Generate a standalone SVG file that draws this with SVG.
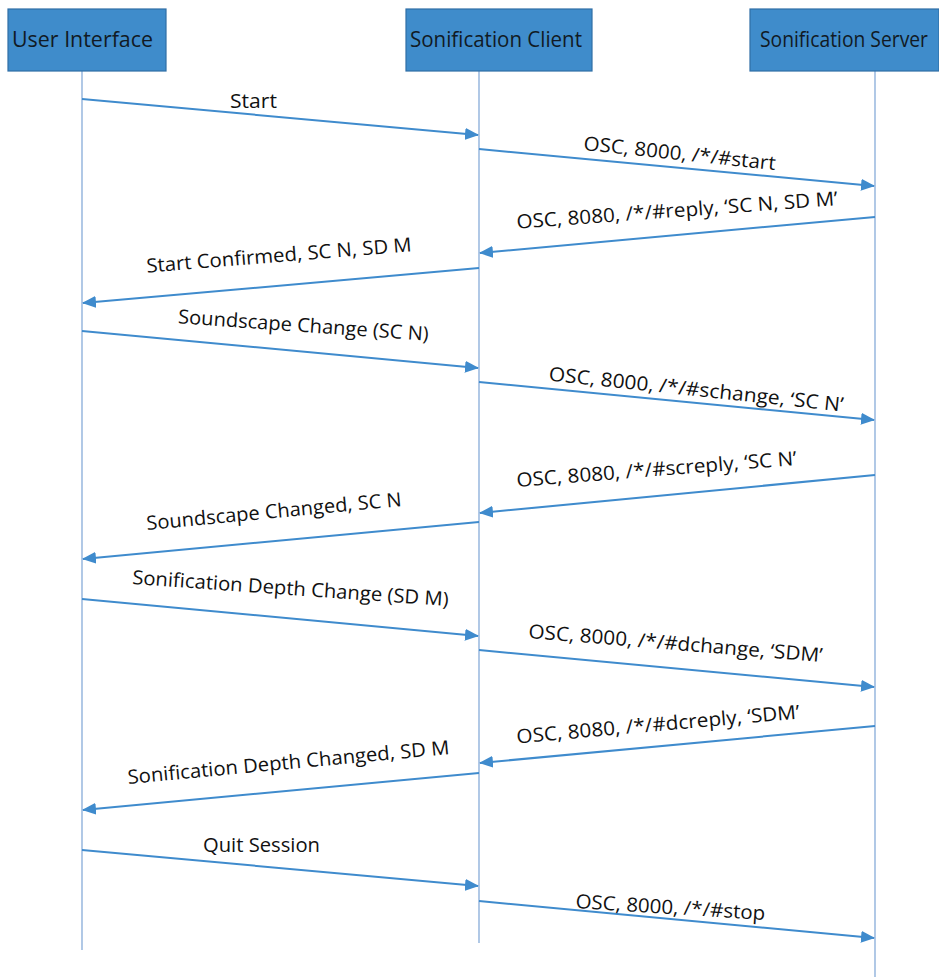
<svg xmlns="http://www.w3.org/2000/svg" width="939" height="977" viewBox="0 0 939 977">
  <style>
    .box { fill: #3f8ccb; stroke: #2f6ea6; stroke-width: 1.2; }
    .head { font-family: "Open Sans", "Liberation Sans", sans-serif; font-size: 21px; fill: #111a24; text-anchor: middle; }
    .life { stroke: #9dbbe0; stroke-width: 1.6; fill: none; }
    .msg { stroke: #3f8bcd; stroke-width: 2; fill: none; marker-end: url(#arrow); }
    .lbl { font-family: "Open Sans", "Liberation Sans", sans-serif; font-size: 19.5px; fill: #111; text-anchor: middle; }
  </style>
  <defs>
    <marker id="arrow" markerUnits="userSpaceOnUse" markerWidth="14" markerHeight="12" refX="13" refY="6" orient="auto">
      <path d="M0,0 L14,6 L0,12 Z" fill="#3f8bcd"/>
    </marker>
  </defs>
  <rect width="939" height="977" fill="#ffffff"/>

  <!-- participants with their lifelines -->
  <g id="user-interface">
    <line class="life" x1="82" y1="71" x2="82" y2="950"/>
    <rect class="box" x="8" y="9" width="158" height="62"/>
    <text class="head" x="82.5" y="46.5" textLength="141" lengthAdjust="spacingAndGlyphs">User Interface</text>
  </g>
  <g id="sonification-client">
    <line class="life" x1="479" y1="71" x2="479" y2="943"/>
    <rect class="box" x="406" y="9" width="186" height="62"/>
    <text class="head" x="496" y="46.5" textLength="172" lengthAdjust="spacingAndGlyphs">Sonification Client</text>
  </g>
  <g id="sonification-server">
    <line class="life" x1="875" y1="71" x2="875" y2="977"/>
    <rect class="box" x="750" y="9" width="189" height="62"/>
    <text class="head" x="844" y="46.5" textLength="168" lengthAdjust="spacingAndGlyphs">Sonification Server</text>
  </g>

  <!-- messages -->
  <g id="connectors">
    <line class="msg" x1="82" y1="99" x2="478" y2="135"/>
    <line class="msg" x1="479" y1="149" x2="874" y2="186"/>
    <line class="msg" x1="875" y1="217" x2="480" y2="253"/>
    <line class="msg" x1="479" y1="268" x2="83" y2="303"/>
    <line class="msg" x1="82" y1="331" x2="478" y2="368"/>
    <line class="msg" x1="479" y1="382" x2="874" y2="420"/>
    <line class="msg" x1="875" y1="475" x2="480" y2="513"/>
    <line class="msg" x1="479" y1="522" x2="83" y2="559"/>
    <line class="msg" x1="82" y1="599" x2="478" y2="636"/>
    <line class="msg" x1="479" y1="650" x2="874" y2="687"/>
    <line class="msg" x1="875" y1="726" x2="480" y2="763"/>
    <line class="msg" x1="479" y1="773" x2="83" y2="810"/>
    <line class="msg" x1="82" y1="850" x2="478" y2="886"/>
    <line class="msg" x1="479" y1="901" x2="874" y2="938"/>
  </g>

  <!-- message labels -->
  <g id="labels">
    <text class="lbl" x="253.5" y="108" textLength="47" lengthAdjust="spacingAndGlyphs">Start</text>
    <text class="lbl" x="679" y="160" transform="rotate(6 679 160)" textLength="193" lengthAdjust="spacingAndGlyphs">OSC, 8000, /*/#start</text>
    <text class="lbl" x="677.5" y="217" transform="rotate(-4.2 677.5 217)" textLength="322" lengthAdjust="spacingAndGlyphs">OSC, 8080, /*/#reply, ‘SC N, SD M’</text>
    <text class="lbl" x="279.5" y="262" transform="rotate(-4.6 279.5 262)" textLength="266" lengthAdjust="spacingAndGlyphs">Start Confirmed, SC N, SD M</text>
    <text class="lbl" x="303" y="332" transform="rotate(4 303 332)" textLength="251" lengthAdjust="spacingAndGlyphs">Soundscape Change (SC N)</text>
    <text class="lbl" x="695.5" y="396" transform="rotate(6 695.5 396)" textLength="296" lengthAdjust="spacingAndGlyphs">OSC, 8000, /*/#schange, ‘SC N’</text>
    <text class="lbl" x="657" y="476" transform="rotate(-4.5 657 476)" textLength="281" lengthAdjust="spacingAndGlyphs">OSC, 8080, /*/#screply, ‘SC N’</text>
    <text class="lbl" x="274.5" y="518" transform="rotate(-5.4 274.5 518)" textLength="256" lengthAdjust="spacingAndGlyphs">Soundscape Changed, SC N</text>
    <text class="lbl" x="290" y="595" transform="rotate(4 290 595)" textLength="317" lengthAdjust="spacingAndGlyphs">Sonification Depth Change (SD M)</text>
    <text class="lbl" x="675" y="650" transform="rotate(4.7 675 650)" textLength="295" lengthAdjust="spacingAndGlyphs">OSC, 8000, /*/#dchange, ‘SDM’</text>
    <text class="lbl" x="658.5" y="731" transform="rotate(-5 658.5 731)" textLength="284" lengthAdjust="spacingAndGlyphs">OSC, 8080, /*/#dcreply, ‘SDM’</text>
    <text class="lbl" x="289" y="769" transform="rotate(-5.3 289 769)" textLength="323" lengthAdjust="spacingAndGlyphs">Sonification Depth Changed, SD M</text>
    <text class="lbl" x="261.5" y="852" textLength="117" lengthAdjust="spacingAndGlyphs">Quit Session</text>
    <text class="lbl" x="670" y="914" transform="rotate(3.6 670 914)" textLength="190" lengthAdjust="spacingAndGlyphs">OSC, 8000, /*/#stop</text>
  </g>
</svg>
